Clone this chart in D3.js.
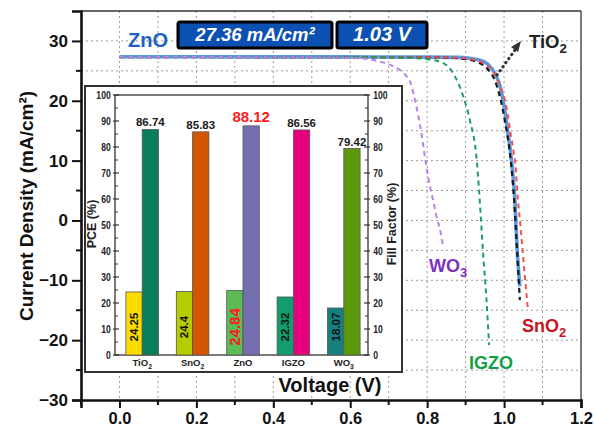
<!DOCTYPE html>
<html><head><meta charset="utf-8">
<script src="https://cdn.jsdelivr.net/npm/d3@7"></script>
<style>
html,body{margin:0;padding:0;background:#fff;}
svg{display:block;font-family:"Liberation Sans",Arial,sans-serif;}
</style></head>
<body>
<svg id="c" width="594" height="429"></svg>
<script>
// ---------- DATA ----------
const voltageTicks = [0.0, 0.2, 0.4, 0.6, 0.8, 1.0, 1.2];
const currentTicks = [-30, -20, -10, 0, 10, 20, 30];

const znoV  = [0, 0.2, 0.4, 0.6, 0.8, 0.88, 0.91, 0.935, 0.954, 0.968, 0.98, 0.99, 0.997, 1.004, 1.010, 1.016, 1.021, 1.028, 1.034, 1.041];
const znoJ  = [27.36, 27.35, 27.34, 27.33, 27.3, 27.25, 27.1, 26.8, 26.3, 25.4, 24.1, 22.3, 20.2, 17.5, 14.6, 11.8, 9.0, 3.5, -4.9, -11.0];
const tio2V = [0, 0.2, 0.4, 0.6, 0.8, 0.87, 0.9, 0.925, 0.945, 0.96, 0.971, 0.982, 0.991, 1.0, 1.008, 1.014, 1.019, 1.026, 1.033, 1.041];
const tio2J = [27.3, 27.3, 27.29, 27.28, 27.25, 27.15, 26.95, 26.6, 26.0, 25.1, 24.1, 22.3, 20.2, 17.4, 14.5, 11.8, 9.0, 3.5, -4.0, -13.3];
const sno2V = [0, 0.2, 0.4, 0.6, 0.8, 0.88, 0.91, 0.935, 0.955, 0.97, 0.983, 0.994, 1.002, 1.01, 1.017, 1.024, 1.030, 1.036, 1.042, 1.048, 1.055, 1.062];
const sno2J = [27.3, 27.3, 27.29, 27.28, 27.26, 27.18, 27.0, 26.6, 26.0, 25.0, 23.6, 21.8, 20.2, 17.5, 14.5, 11.8, 9.0, 3.5, -0.5, -4.9, -10.0, -14.9];
const igzoV = [0, 0.2, 0.4, 0.6, 0.7, 0.76, 0.8, 0.842, 0.872, 0.894, 0.911, 0.929, 0.935, 0.940, 0.946, 0.954, 0.961];
const igzoJ = [27.3, 27.3, 27.29, 27.27, 27.24, 27.15, 26.95, 26.3, 24.1, 20.7, 16.8, 10.0, 5.0, 0.0, -6.0, -13.0, -20.8];
const wo3V  = [0, 0.2, 0.4, 0.55, 0.62, 0.66, 0.69, 0.72, 0.745, 0.758, 0.768, 0.785, 0.798, 0.808, 0.815, 0.824, 0.835, 0.842];
const wo3J  = [27.3, 27.3, 27.28, 27.24, 27.1, 26.8, 26.3, 25.5, 24.2, 22.8, 20.2, 14.6, 9.0, 5.5, 3.5, 0.8, -2.0, -4.6];

const categories = ["TiO2", "SnO2", "ZnO", "IGZO", "WO3"];
const pceValues  = [24.25, 24.4, 24.84, 22.32, 18.07];
const ffValues   = [86.74, 85.83, 88.12, 86.56, 79.42];
const pceColors  = ["#ffdc00", "#b5cc00", "#5cbb55", "#119d6c", "#167f80"];
const ffColors   = ["#087e5d", "#d45500", "#7470b0", "#e6007d", "#5a9a0a"];
const barTicks   = [0, 10, 20, 30, 40, 50, 60, 70, 80, 90, 100];
const jscText = "27.36 mA/cm\u00B2";
const vocText = "1.03 V";

// ---------- CHART ----------
const svg = d3.select("#c");
const x = d3.scaleLinear([-0.1, 1.2], [81, 581]);
const y = d3.scaleLinear([-30, 35], [400, 11]);

// grid
const grid = svg.append("g").attr("stroke", "#9a9a9a").attr("stroke-width", 1).attr("stroke-dasharray", "2,3");
d3.range(0, 1.15, 0.1).forEach(v => grid.append("line").attr("x1", x(v)).attr("x2", x(v)).attr("y1", y(35)).attr("y2", y(-30)));
d3.range(-25, 31, 5).forEach(j => grid.append("line").attr("x1", x(-0.1)).attr("x2", x(1.2)).attr("y1", y(j)).attr("y2", y(j)));

// frame top/right
svg.append("line").attr("x1", x(-0.1)).attr("x2", x(1.2)).attr("y1", y(35)).attr("y2", y(35)).attr("stroke", "#333").attr("stroke-width", 1.3);
svg.append("line").attr("x1", x(1.2)).attr("x2", x(1.2)).attr("y1", y(35)).attr("y2", y(-30)).attr("stroke", "#333").attr("stroke-width", 1.3);

// axes
const yAxis = d3.axisLeft(y).tickValues(currentTicks).tickSize(9).tickPadding(4);
const gy = svg.append("g").attr("transform", `translate(${x(-0.1)},0)`).call(yAxis);
const xAxis = d3.axisBottom(x).tickValues(voltageTicks).tickSize(8).tickPadding(4).tickFormat(d3.format(".1f"));
const gx = svg.append("g").attr("transform", `translate(0,${y(-30)})`).call(xAxis);
[gy, gx].forEach(g => {
  g.select(".domain").attr("stroke", "#111").attr("stroke-width", 2.6);
  g.selectAll(".tick line").attr("stroke", "#111").attr("stroke-width", 2);
  g.selectAll(".tick text").attr("fill", "#111").attr("font-weight", "bold").attr("font-family", "Liberation Sans, Arial, sans-serif");
});
gy.selectAll(".tick text").attr("font-size", 17);
gx.selectAll(".tick text").attr("font-size", 16.5);
// minor ticks
d3.range(-25, 35, 10).forEach(j => svg.append("line").attr("x1", x(-0.1) - 5).attr("x2", x(-0.1)).attr("y1", y(j)).attr("y2", y(j)).attr("stroke", "#111").attr("stroke-width", 2));
d3.range(-0.1, 1.15, 0.2).forEach(v => svg.append("line").attr("x1", x(v)).attr("x2", x(v)).attr("y1", y(-30)).attr("y2", y(-30) + 5).attr("stroke", "#111").attr("stroke-width", 2));

// axis titles
svg.append("text").attr("transform", "translate(33,206) rotate(-90)").attr("text-anchor", "middle")
  .attr("font-size", 19).attr("font-weight", "bold").attr("fill", "#111").text("Current Density (mA/cm\u00B2)");
svg.append("text").attr("x", 330).attr("y", 392).attr("text-anchor", "middle")
  .attr("font-size", 20).attr("font-weight", "bold").attr("fill", "#111").text("Voltage (V)");

// curves
const line = d3.line().x(d => x(d[0])).y(d => y(d[1])).curve(d3.curveMonotoneX);
const zip = (a, b) => a.map((v, i) => [v, b[i]]);
const curves = [
  {V: znoV, J: znoJ, color: "#5a98e0", w: 3.6, dash: null},
  {V: tio2V, J: tio2J, color: "#1a1a1a", w: 2.2, dash: "5,4"},
  {V: sno2V, J: sno2J, color: "#f2524d", w: 2, dash: "5,4"},
  {V: igzoV, J: igzoJ, color: "#1f9e5e", w: 2, dash: "5,4"},
  {V: wo3V, J: wo3J, color: "#b883e6", w: 2, dash: "5,4"}
];
curves.forEach(c => svg.append("path").attr("d", line(zip(c.V, c.J))).attr("fill", "none")
  .attr("stroke", c.color).attr("stroke-width", c.w).attr("stroke-dasharray", c.dash));

// chem text helper
function chem(sel, str, fs) {
  const parts = str.match(/[A-Za-z]+|\d+/g);
  let sub = false;
  parts.forEach(p => {
    if (/^\d+$/.test(p)) {
      sel.append("tspan").attr("font-size", fs * 0.72).attr("dy", fs * 0.28).text(p);
      sub = true;
    } else {
      const t = sel.append("tspan").text(p);
      if (sub) { t.attr("dy", -fs * 0.28); sub = false; }
    }
  });
}

// annotations
svg.append("text").attr("x", 128).attr("y", 47).attr("font-size", 20).attr("font-weight", "bold").attr("fill", "#1f62c4").text("ZnO");
svg.append("rect").attr("x", 178).attr("y", 22).attr("width", 154).attr("height", 26).attr("rx", 2)
  .attr("fill", "#0b50b2").attr("stroke", "#000").attr("stroke-width", 3);
svg.append("text").attr("x", 255).attr("y", 41).attr("text-anchor", "middle").attr("font-size", 18.5)
  .attr("font-weight", "bold").attr("font-style", "italic").attr("fill", "#fff").text(jscText);
svg.append("rect").attr("x", 337).attr("y", 22).attr("width", 90).attr("height", 26).attr("rx", 2)
  .attr("fill", "#0b50b2").attr("stroke", "#000").attr("stroke-width", 3);
svg.append("text").attr("x", 382).attr("y", 41).attr("text-anchor", "middle").attr("font-size", 20)
  .attr("font-weight", "bold").attr("font-style", "italic").attr("fill", "#fff").text(vocText);

chem(svg.append("text").attr("x", 529).attr("y", 48).attr("font-size", 18.5).attr("font-weight", "bold").attr("fill", "#222"), "TiO2", 18.5);
svg.append("line").attr("x1", 497).attr("y1", 75).attr("x2", 515).attr("y2", 50)
  .attr("stroke", "#333").attr("stroke-width", 3).attr("stroke-dasharray", "0.5,4.5").attr("stroke-linecap", "round");
svg.append("path").attr("d", "M521,41 L511,47 L518,52 Z").attr("fill", "#333");

chem(svg.append("text").attr("x", 429).attr("y", 272).attr("font-size", 18).attr("font-weight", "bold").attr("fill", "#7d2fbf"), "WO3", 18);
svg.append("text").attr("x", 469).attr("y", 369).attr("font-size", 18).attr("font-weight", "bold").attr("fill", "#11a043").text("IGZO");
chem(svg.append("text").attr("x", 522).attr("y", 332).attr("font-size", 18).attr("font-weight", "bold").attr("fill", "#c8121c"), "SnO2", 18);

// ---------- INSET ----------
const inset = svg.append("g");
inset.append("rect").attr("x", 85).attr("y", 86).attr("width", 317).attr("height", 286)
  .attr("fill", "#fff").attr("stroke", "#333").attr("stroke-width", 2);
const yb = d3.scaleLinear([0, 100], [355, 95]);
const xb = d3.scaleBand(categories, [117, 369]);
const bw = 16.3;
const fL = 115, fR = 368;
inset.append("rect").attr("x", fL).attr("y", yb(100)).attr("width", fR - fL).attr("height", yb(0) - yb(100))
  .attr("fill", "none").attr("stroke", "#333").attr("stroke-width", 1.3);

const la = inset.append("g").attr("transform", `translate(${fL},0)`).call(d3.axisLeft(yb).tickValues(barTicks).tickSize(0).tickPadding(5));
const ra = inset.append("g").attr("transform", `translate(${fR},0)`).call(d3.axisRight(yb).tickValues(barTicks).tickSize(0).tickPadding(6));
[la, ra].forEach(g => {
  g.select(".domain").remove();
  g.selectAll(".tick text").attr("fill", "#222").attr("font-size", 10).attr("font-weight", "bold")
    .attr("font-family", "Liberation Sans, Arial, sans-serif").attr("transform", "scale(0.86,1)");
});
barTicks.forEach(v => {
  inset.append("line").attr("x1", fL - 2).attr("x2", fL + 4).attr("y1", yb(v)).attr("y2", yb(v)).attr("stroke", "#333").attr("stroke-width", 1.2);
  inset.append("line").attr("x1", fR - 4).attr("x2", fR + 2).attr("y1", yb(v)).attr("y2", yb(v)).attr("stroke", "#333").attr("stroke-width", 1.2);
});
d3.range(5, 100, 10).forEach(v => {
  inset.append("line").attr("x1", fL).attr("x2", fL + 3).attr("y1", yb(v)).attr("y2", yb(v)).attr("stroke", "#333");
  inset.append("line").attr("x1", fR - 3).attr("x2", fR).attr("y1", yb(v)).attr("y2", yb(v)).attr("stroke", "#333");
});

inset.append("text").attr("transform", "translate(96,224) rotate(-90)").attr("text-anchor", "middle")
  .attr("font-size", 12.5).attr("font-weight", "bold").attr("fill", "#222").text("PCE (%)");
inset.append("text").attr("transform", "translate(396,224) rotate(-90)").attr("text-anchor", "middle")
  .attr("font-size", 12.5).attr("font-weight", "bold").attr("fill", "#222").text("Fill Factor (%)");

categories.forEach((c, i) => {
  const cx = xb(c) + xb.bandwidth() / 2;
  inset.append("rect").attr("x", cx - bw).attr("y", yb(pceValues[i])).attr("width", bw).attr("height", yb(0) - yb(pceValues[i]))
    .attr("fill", pceColors[i]).attr("stroke", "#555").attr("stroke-width", 0.8);
  inset.append("rect").attr("x", cx).attr("y", yb(ffValues[i])).attr("width", bw).attr("height", yb(0) - yb(ffValues[i]))
    .attr("fill", ffColors[i]).attr("stroke", "#555").attr("stroke-width", 0.8);
  const best = c === "ZnO";
  inset.append("text").attr("x", cx + bw / 2).attr("y", yb(ffValues[i]) - (best ? 4 : 3)).attr("text-anchor", "middle")
    .attr("font-size", best ? 15 : 11.5).attr("font-weight", "bold").attr("fill", best ? "#ff1a1a" : "#1a1a1a").text(ffValues[i]);
  inset.append("text").attr("transform", `translate(${cx - bw / 2},327) rotate(-90)`).attr("text-anchor", "middle")
    .attr("dominant-baseline", "central")
    .attr("font-size", best ? 15 : 11.5).attr("font-weight", "bold").attr("fill", best ? "#ff1a1a" : "#111").text(pceValues[i]);
  chem(inset.append("text").attr("x", cx).attr("y", 366).attr("text-anchor", "middle").attr("font-size", 9.5)
    .attr("font-weight", "bold").attr("fill", "#222"), c, 9.5);
});
</script>
</body></html>
